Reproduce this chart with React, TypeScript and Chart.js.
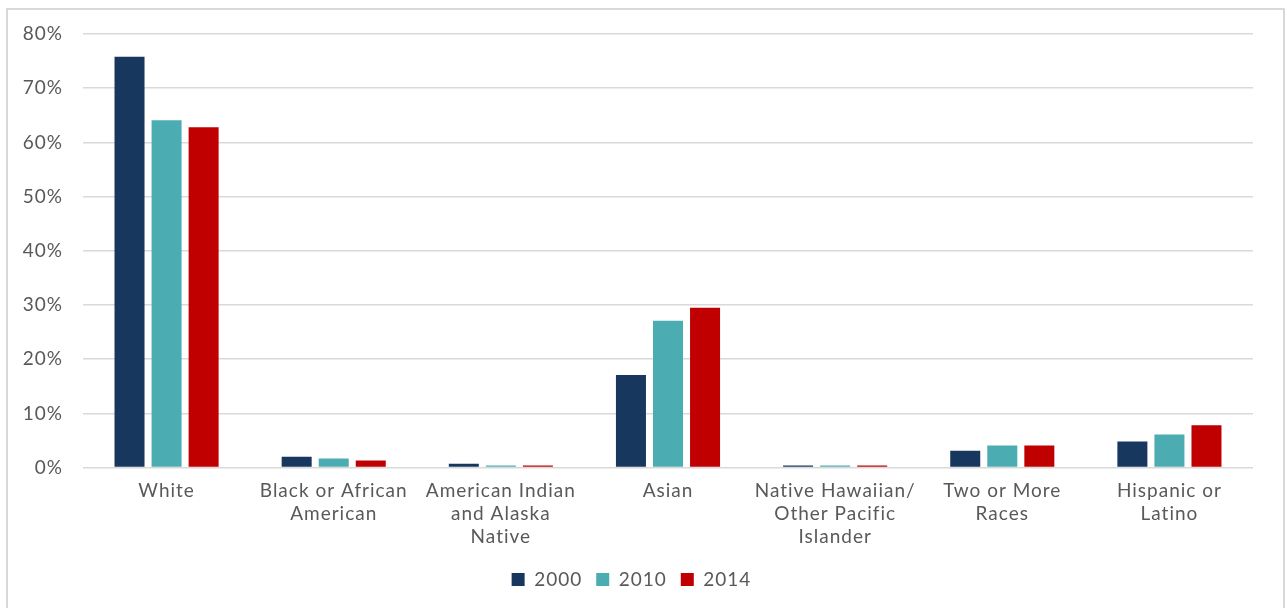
import React, { useEffect, useRef } from "react";
import { Chart, registerables } from "chart.js";

Chart.register(...registerables);

const categories: string[][] = [
  ["White"],
  ["Black or African", "American"],
  ["American Indian", "and Alaska", "Native"],
  ["Asian"],
  ["Native Hawaiian/", "Other Pacific", "Islander"],
  ["Two or More", "Races"],
  ["Hispanic or", "Latino"],
];
const seriesLabels = ["2000", "2010", "2014"];
const values2000 = [75.8, 2.0, 0.7, 17.1, 0.4, 3.1, 4.8];
const values2010 = [64.1, 1.7, 0.4, 27.1, 0.4, 4.1, 6.1];
const values2014 = [62.8, 1.3, 0.4, 29.5, 0.4, 4.1, 7.8];
const colors = ["#17375E", "#4BACB1", "#C00000"];

const spacingPlugin = {
  id: "letterSpacing",
  afterInit(chart: any) {
    chart.ctx.letterSpacing = "1px";
  },
  beforeUpdate(chart: any) {
    chart.ctx.letterSpacing = "1px";
  },
  beforeDraw(chart: any) {
    chart.ctx.letterSpacing = "1px";
  },
};

export default function App() {
  const ref = useRef<HTMLCanvasElement>(null);
  useEffect(() => {
    if (!ref.current) return;
    const font = { family: "Lato, 'Noto Sans', sans-serif", size: 19 };
    const chart = new Chart(ref.current, {
      type: "bar",
      data: {
        labels: categories,
        datasets: [values2000, values2010, values2014].map((d, i) => ({
          label: seriesLabels[i],
          data: d,
          backgroundColor: colors[i],
          categoryPercentage: 0.665,
          barPercentage: 0.81,
        })),
      },
      plugins: [spacingPlugin],
      options: {
        responsive: false,
        animation: false,
        layout: { padding: { top: 4, right: 30, left: 2, bottom: 2 } },
        plugins: {
          legend: {
            position: "bottom",
            labels: {
              boxWidth: 13,
              boxHeight: 13,
              padding: 14,
              color: "#595959",
              font,
            },
          },
          tooltip: { enabled: false },
        },
        scales: {
          x: {
            grid: { display: false },
            border: { display: false },
            afterFit: (s: any) => {
              s.height += 4;
            },
            ticks: {
              color: "#595959",
              font: { ...font, lineHeight: 1.2 },
              maxRotation: 0,
              autoSkip: false,
              padding: 4,
            },
          },
          y: {
            min: 0,
            max: 80,
            afterFit: (s: any) => {
              s.width = 73;
            },
            ticks: {
              stepSize: 10,
              color: "#595959",
              font: { ...font, lineHeight: 0.42 },
              padding: 20,
              callback: (v: any) => v + "%",
            },
            grid: { color: "#d9d9d9", lineWidth: 1.5, drawTicks: false },
            border: { display: false },
          },
        },
      },
    });
    return () => chart.destroy();
  }, []);
  return (
    <div
      style={{
        position: "fixed",
        left: 6,
        top: 8,
        width: 1279,
        height: 620,
        border: "2px solid #d9d9d9",
        boxSizing: "border-box",
        background: "#fff",
      }}
    >
      <canvas ref={ref} width={1275} height={591} style={{ display: "block" }} />
    </div>
  );
}
